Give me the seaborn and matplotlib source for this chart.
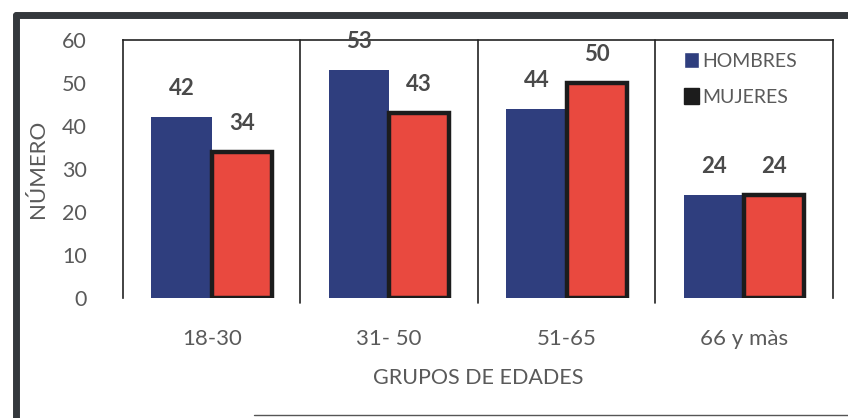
import pandas as pd
import seaborn as sns
import matplotlib.pyplot as plt
from matplotlib.lines import Line2D

# -----------------------------
# Data
# -----------------------------
grupos = ["18-30", "31- 50", "51-65", "66 y màs"]
hombres = [42, 53, 44, 24]
mujeres = [34, 43, 50, 24]
series = ["HOMBRES", "MUJERES"]

df = pd.DataFrame({
    "grupo": grupos * 2,
    "numero": hombres + mujeres,
    "sexo": [series[0]] * len(grupos) + [series[1]] * len(grupos),
})

BLUE = "#2f3e7e"
RED = "#e9493f"
GRAY = "#5a5a5a"

sns.set_style("white")
plt.rcParams["font.family"] = ["Lato", "DejaVu Sans"]

fig = plt.figure(figsize=(8.48, 4.18), dpi=100)
ax = fig.add_axes([0.145, 0.287, 0.837, 0.617])

sns.barplot(data=df, x="grupo", y="numero", hue="sexo",
            palette=[BLUE, RED], width=0.68, ax=ax, saturation=1)

# thick black edge on the red bars
for p in ax.containers[1]:
    p.set_edgecolor("#1c1c1c")
    p.set_linewidth(3.2)
for p in ax.containers[0]:
    p.set_linewidth(0)

# value labels (the tallest one gets cut by the frame, as in the scan)
for cont in ax.containers:
    labels = ax.bar_label(cont, padding=13, fontsize=16, fontweight="bold", color="#4a4a4a")
    for t in labels:
        t.set_clip_on(True)

ax.set_ylim(0, 60)
ax.set_xlim(-0.5, 3.5)
ax.set_yticks(range(0, 61, 10))
ax.tick_params(axis="y", length=0, pad=26, labelsize=15.5, labelcolor=GRAY)
ax.tick_params(axis="x", length=0, pad=22, labelsize=16, labelcolor=GRAY)
ax.set_ylabel("NÚMERO", fontsize=16, color=GRAY, labelpad=10)
ax.set_xlabel("GRUPOS DE EDADES", fontsize=15.5, color=GRAY, labelpad=14)

for s in ["top", "left", "right"]:
    ax.spines[s].set_color("#222222")
    ax.spines[s].set_linewidth(1.2)
ax.spines["bottom"].set_visible(False)

# group separators
for x in [0.5, 1.5, 2.5]:
    ax.axvline(x, ymin=-0.02, ymax=1, color="#222222", lw=1.2, clip_on=False)

# legend
h, l = ax.get_legend_handles_labels()
h[1].set_edgecolor("#1c1c1c")
h[1].set_facecolor("#1c1c1c")
leg = ax.legend(h, l, loc="upper left", bbox_to_anchor=(0.78, 0.985), frameon=False,
                fontsize=14, handlelength=0.75, handleheight=0.9, handletextpad=0.15,
                labelspacing=0.95, borderaxespad=0)
for t in leg.get_texts():
    t.set_color(GRAY)

# scan border
fig.add_artist(Line2D([0.019, 1.0], [0.965, 0.965], color="#34383c", lw=5, transform=fig.transFigure))
fig.add_artist(Line2D([0.019, 0.019], [0.0, 0.965], color="#34383c", lw=5, transform=fig.transFigure))
fig.add_artist(Line2D([0.3, 1.0], [0.006, 0.006], color="#555555", lw=1, transform=fig.transFigure))

fig.savefig("out.png", dpi=100)
